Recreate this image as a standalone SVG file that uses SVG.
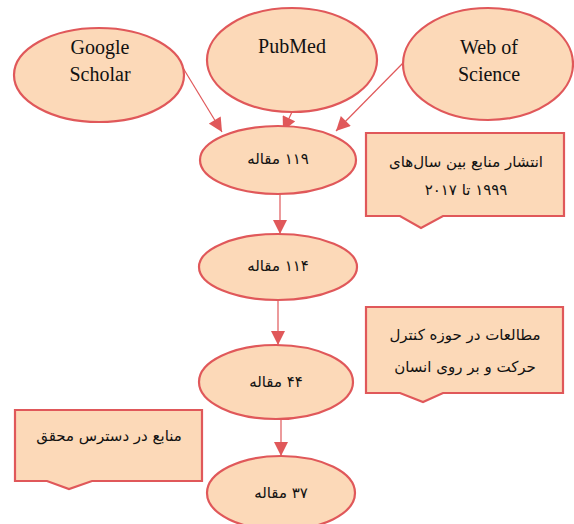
<svg xmlns="http://www.w3.org/2000/svg" width="574" height="524" viewBox="0 0 574 524">
<defs>
<style>
.n{fill:#FCD9B8;stroke:#E0585A;stroke-width:2.2}
.en{font-family:"Liberation Serif",serif;font-size:20px;fill:#111;text-anchor:middle}
.fa{font-family:"DejaVu Sans",sans-serif;font-size:15px;fill:#111;text-anchor:middle;direction:rtl}
.c{stroke:#E0585A;stroke-width:1.2;fill:none;marker-end:url(#ah)}
</style>
<marker id="ah" viewBox="0 0 10 10" refX="10" refY="5" markerWidth="15" markerHeight="14" markerUnits="userSpaceOnUse" orient="auto">
<path d="M0,0 L10,5 L0,10 z" fill="#E0585A"/>
</marker>
</defs>
<rect width="574" height="524" fill="#fff"/>
<g id="connectors">
<line class="c" x1="180" y1="63" x2="222" y2="132"/>
<line class="c" x1="292" y1="112" x2="283" y2="131"/>
<line class="c" x1="404" y1="62" x2="336" y2="131"/>
<line class="c" x1="280" y1="194" x2="280" y2="234"/>
<line class="c" x1="278" y1="300" x2="278" y2="345"/>
<line class="c" x1="281" y1="419" x2="281" y2="456"/>
</g>
<g id="google">
<ellipse class="n" cx="99" cy="75" rx="85" ry="47"/>
<text class="en" x="100" y="54">Google</text>
<text class="en" x="100" y="81">Scholar</text>
</g>
<g id="pubmed">
<ellipse class="n" cx="292" cy="60" rx="85" ry="52"/>
<text class="en" x="292" y="53">PubMed</text>
</g>
<g id="wos">
<ellipse class="n" cx="488" cy="64" rx="85" ry="56"/>
<text class="en" x="489" y="54">Web of</text>
<text class="en" x="489" y="81">Science</text>
</g>
<g id="n119">
<ellipse class="n" cx="278" cy="160" rx="78" ry="34"/>
<text class="fa" x="278" y="164">۱۱۹ مقاله</text>
</g>
<g id="n114">
<ellipse class="n" cx="278" cy="267" rx="79" ry="33"/>
<text class="fa" x="278" y="271">۱۱۴ مقاله</text>
</g>
<g id="n44">
<ellipse class="n" cx="276" cy="382" rx="77" ry="37"/>
<text class="fa" x="276" y="387">۴۴ مقاله</text>
</g>
<g id="n37">
<ellipse class="n" cx="281" cy="493" rx="74" ry="37"/>
<text class="fa" x="281" y="498">۳۷ مقاله</text>
</g>
<g id="callout1">
<path class="n" d="M366,133 H564 V216 H443 L421,228 L400,216 H366 Z"/>
<text class="fa" x="466" y="167">انتشار منابع بین سال‌های</text>
<text class="fa" x="466" y="195">۱۹۹۹ تا ۲۰۱۷</text>
</g>
<g id="callout2">
<path class="n" d="M366,307 H563 V393 H443 L423,402 L400,393 H366 Z"/>
<text class="fa" x="465" y="340">مطالعات در حوزه کنترل</text>
<text class="fa" x="465" y="372">حرکت و بر روی انسان</text>
</g>
<g id="callout3">
<path class="n" d="M15,410 H202 V481 H92 L69,489 L47,481 H15 Z"/>
<text class="fa" x="109" y="441">منابع در دسترس محقق</text>
</g>
</svg>
